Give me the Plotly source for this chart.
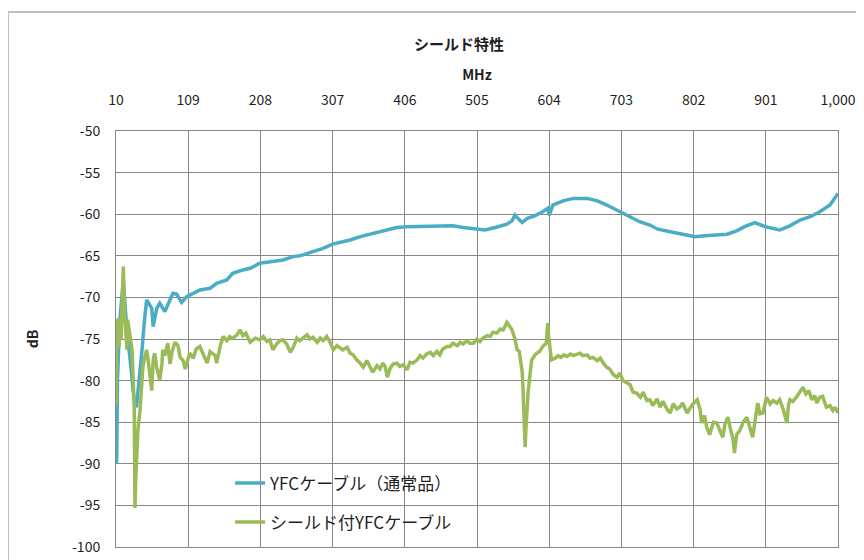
import plotly.graph_objects as go

# ---- data ----
x_tick_vals = [10, 109, 208, 307, 406, 505, 604, 703, 802, 901, 1000]
x_tick_text = ["10", "109", "208", "307", "406", "505", "604", "703", "802", "901", "1,000"]
y_tick_vals = [-50, -55, -60, -65, -70, -75, -80, -85, -90, -95, -100]
y_tick_text = ["-50", "-55", "-60", "-65", "-70", "-75", "-80", "-85", "-90", "-95", "-100"]

blue_name = "YFCケーブル（通常品）"
green_name = "シールド付YFCケーブル"

blue_freq = [10, 11, 12, 15, 20, 25, 30, 35, 38, 42, 46, 49, 52, 59, 61, 66, 70, 77, 88, 93,
             100, 107, 116, 125,
             139, 148, 162, 170, 184, 194, 207, 221, 239, 253, 262, 280, 294, 307, 317, 331,
             345, 358, 376, 386, 395, 409, 427, 454, 472, 486, 500, 516, 530, 546, 553, 557,
             561, 567, 574, 584, 595, 602, 604, 609, 623, 637, 656, 670, 683, 694, 705, 728,
             742, 753, 770, 787, 804, 818, 831, 848, 861, 872, 886, 900, 920, 934, 948, 962,
             975, 989, 1000]
blue_db = [-90.0, -89.5, -80.0, -73.0, -68.0, -74.0, -78.0, -82.5, -83.2, -80.0, -76.0, -72.8,
           -70.3, -71.3, -73.5, -71.3, -70.7,
           -71.7, -69.5, -69.6, -70.6, -69.9, -69.5, -69.1, -68.9, -68.3, -67.9, -67.1, -66.7,
           -66.5, -65.9, -65.7, -65.5, -65.1, -65.0, -64.5, -64.1, -63.6, -63.4, -63.1, -62.7,
           -62.4, -62.0, -61.8, -61.6, -61.5, -61.5, -61.4, -61.4, -61.6, -61.7, -61.9, -61.6,
           -61.2, -60.8, -60.1, -60.5, -61.0, -60.5, -60.2, -59.7, -59.3, -60.1, -58.9, -58.4,
           -58.1, -58.1, -58.4, -58.9, -59.4, -59.9, -60.9, -61.3, -61.8, -62.1, -62.4, -62.7,
           -62.6, -62.5, -62.4, -62.0, -61.5, -61.0, -61.5, -61.9, -61.4, -60.7, -60.3, -59.7,
           -58.9, -57.5]

green_freq = [10, 11, 13, 14, 15, 17, 20, 21, 22, 25, 26, 29, 32, 35, 36, 37, 40, 43, 46, 47,
              50, 52, 54, 57, 59, 61, 63, 66, 70, 73, 74, 77, 81, 84, 87, 91, 95, 98, 102, 105,
              107, 111, 116, 120, 125, 129, 135, 139, 142, 146, 148, 153, 157, 162, 166, 170,
              176, 180, 184, 188, 194, 201, 207, 212, 217, 221, 225, 231, 235, 239, 244, 249,
              253, 258, 262, 266, 272, 276, 280, 286, 290, 294, 299, 303, 308, 313, 317, 321,
              327, 331, 335, 340, 345, 349, 354, 358, 362, 368, 372, 376, 379, 382, 386, 390,
              395, 399, 404, 409, 413, 417, 423, 427, 431, 436, 441, 445, 450, 454, 458, 464,
              468, 472, 478, 482, 486, 491, 495, 500, 505, 509, 513, 519, 523, 527, 532, 537,
              541, 546, 550, 553, 557, 560, 563, 564, 567, 568, 569, 571, 572, 575, 578, 580,
              584, 587, 591, 595, 600, 602, 603, 605, 607, 612, 616, 620, 624, 628, 633, 637,
              642, 646, 650, 656, 660, 664, 670, 674, 679, 683, 687, 692, 697, 701, 705, 711,
              715, 719, 724, 729, 733, 738, 742, 746, 752, 756, 760, 766, 770, 774, 779, 783,
              787, 793, 797, 801, 807, 811, 813, 817, 820, 824, 829, 834, 838, 842, 845, 849,
              853, 856, 858, 861, 866, 870, 875, 879, 883, 886, 890, 893, 897, 902, 907, 911,
              916, 920, 925, 930, 932, 934, 938, 943, 947, 952, 956, 960, 964, 968, 971, 975,
              979, 984, 989, 993, 996, 1000]
green_db = [-83.0, -74.0, -72.5, -76.0, -73.0, -75.0, -66.3, -71.0, -72.3, -76.3, -72.7, -74.5,
            -76.3, -83.2, -95.3, -92.0, -86.0, -83.5, -79.5, -78.2, -77.0, -76.3, -77.5, -79.5,
            -81.2, -77.5, -76.7, -78.5, -79.9, -78.0, -76.3, -77.0, -75.5, -78.0, -76.5, -75.4,
            -75.8, -77.2, -77.6, -78.6, -78.0, -76.7, -77.3, -76.2, -75.9, -76.8, -77.9, -76.5,
            -76.7, -77.0, -77.9, -75.8, -74.7, -75.2, -74.7, -74.9, -74.5, -73.9, -74.6, -74.3,
            -75.4, -74.9, -75.1, -74.7, -75.3, -75.1, -76.3, -75.5, -75.2, -75.1, -75.6, -76.6,
            -76.0, -74.9, -75.2, -74.9, -74.5, -75.0, -74.8, -75.4, -74.9, -75.2, -74.7, -75.3,
            -76.3, -75.8, -76.0, -76.3, -76.0, -76.7, -76.9, -77.5, -77.9, -78.4, -77.6, -78.3,
            -79.0, -78.2, -78.6, -77.9, -78.3, -79.6, -78.5, -78.0, -77.9, -78.3, -78.1, -78.7,
            -77.8, -77.9, -77.5, -77.0, -77.3, -76.8, -76.6, -77.0, -76.5, -76.9, -76.2, -75.9,
            -75.9, -75.5, -75.8, -75.4, -75.6, -75.2, -75.5, -75.5, -75.0, -75.3, -74.9, -74.6,
            -74.7, -74.2, -74.3, -73.8, -73.9, -73.0, -73.5, -73.9, -75.0, -76.3, -76.5, -77.2,
            -79.0, -80.8, -84.5, -88.0, -86.0, -81.5, -79.0, -77.5, -77.0, -76.7, -76.5, -75.9,
            -75.5, -73.1, -74.5, -76.5, -77.5, -77.3, -77.0, -77.2, -76.9, -77.1, -76.8, -77.0,
            -76.8, -76.7, -77.0, -76.9, -77.3, -77.2, -77.6, -77.3, -78.0, -78.4, -78.6, -79.3,
            -79.6, -79.1, -80.0, -80.3, -80.5, -81.4, -81.5, -82.0, -81.4, -82.4, -82.3, -83.0,
            -82.2, -83.2, -82.5, -83.5, -83.9, -82.8, -83.4, -83.2, -82.7, -83.9, -83.4, -82.8,
            -82.3, -83.5, -85.1, -84.2, -85.6, -86.5, -85.0, -85.1, -86.0, -86.8, -85.2, -84.4,
            -86.0, -87.0, -88.7, -86.5, -85.9, -85.0, -84.4, -85.5, -86.8, -85.0, -82.7, -84.0,
            -83.9, -82.0, -82.8, -82.4, -82.7, -82.3, -83.5, -85.1, -83.0, -82.3, -82.5, -82.0,
            -81.5, -80.8, -81.6, -81.2, -82.3, -81.8, -82.7, -82.0, -81.9, -83.2, -83.0, -83.6,
            -83.2, -83.9]

assert len(blue_freq) == len(blue_db), (len(blue_freq), len(blue_db))
assert len(green_freq) == len(green_db), (len(green_freq), len(green_db))

FONT = "Noto Sans CJK JP, Noto Sans, sans-serif"
TXT = "#1f1f1f"
GRID = "#868686"

fig = go.Figure()
fig.add_trace(go.Scatter(x=blue_freq, y=blue_db, mode="lines", name=blue_name,
                         legendgroup="a",
                         line=dict(color="#4BACC6", width=3.5)))
fig.add_trace(go.Scatter(x=green_freq, y=green_db, mode="lines", name=green_name,
                         legendgroup="b",
                         line=dict(color="#9BBB59", width=3.5)))

fig.update_layout(
    width=864, height=560,
    margin=dict(l=108, r=34, t=123, b=21),
    paper_bgcolor="white", plot_bgcolor="white",
    font=dict(family=FONT, size=14, color=TXT),
    title=dict(text="<b>シールド特性</b>", x=0.475, xref="paper", xanchor="center",
               y=1 - 37 / 560, yref="container", yanchor="middle",
               font=dict(family=FONT, size=15, color=TXT)),
    showlegend=True,
    legend=dict(x=0.158, y=0.196, xanchor="left", yanchor="top",
                bgcolor="rgba(0,0,0,0)", borderwidth=0,
                traceorder="grouped", tracegroupgap=14,
                font=dict(family=FONT, size=17, color=TXT)),
)

fig.update_xaxes(
    range=[10, 1000], side="top",
    tickmode="array", tickvals=x_tick_vals, ticktext=x_tick_text,
    ticks="outside", ticklen=19, tickcolor="rgba(0,0,0,0)",
    showgrid=True, gridcolor=GRID, gridwidth=1,
    showline=True, linecolor=GRID, linewidth=1, mirror=True,
    zeroline=False,
    tickfont=dict(family=FONT, size=14, color=TXT),
    title=dict(text="<b>MHz</b>", standoff=5, font=dict(family=FONT, size=14, color=TXT)),
)
fig.update_yaxes(
    range=[-100, -50],
    tickmode="array", tickvals=y_tick_vals, ticktext=y_tick_text,
    ticks="outside", ticklen=12, tickcolor="rgba(0,0,0,0)",
    showgrid=True, gridcolor=GRID, gridwidth=1,
    showline=True, linecolor=GRID, linewidth=1, mirror=True,
    zeroline=False,
    tickfont=dict(family=FONT, size=14, color=TXT),
    title=dict(text="<b>dB</b>", standoff=30, font=dict(family=FONT, size=14, color=TXT)),
)

# outer chart border
fig.add_shape(type="rect", xref="paper", yref="paper",
              x0=(8 - 116) / 722, x1=(860 - 116) / 722,
              y0=-0.2, y1=(547 - 12) / 416,
              line=dict(color="#bfbfbf", width=2), fillcolor="rgba(0,0,0,0)", layer="below")

fig.write_html("out.html")
